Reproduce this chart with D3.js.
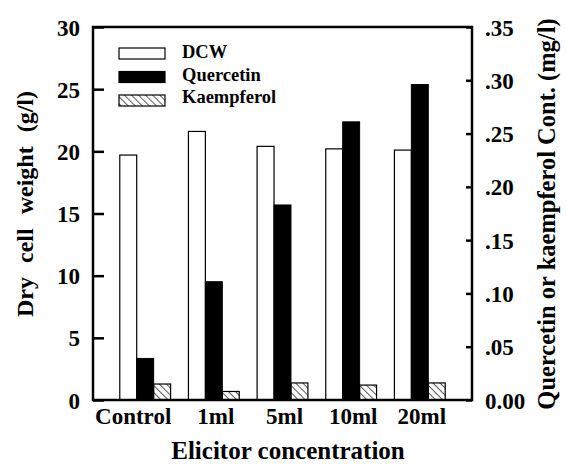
<!DOCTYPE html>
<html>
<head>
<meta charset="utf-8">
<script src="https://cdn.jsdelivr.net/npm/d3@7"></script>
<style>
  body { margin: 0; background: #fff; }
  text { font-family: 'Liberation Serif', 'Times New Roman', serif; font-weight: bold; fill: #000; }
</style>
</head>
<body>
<div id="chart"></div>
<script>
const categories = ['Control', '1ml', '5ml', '10ml', '20ml']
const dcw = [19.7, 21.6, 20.4, 20.2, 20.1]
const quercetin = [0.039, 0.111, 0.183, 0.261, 0.296]
const kaempferol = [0.015, 0.008, 0.016, 0.014, 0.016]
const leftTicks = [0, 5, 10, 15, 20, 25, 30]
const rightTicks = [0, 0.05, 0.1, 0.15, 0.2, 0.25, 0.3, 0.35]

const W = 566
const H = 464
const margin = { top: 27, right: 94, bottom: 64, left: 93 }
const width = W - margin.left - margin.right
const height = H - margin.top - margin.bottom
const serif = "'Liberation Serif', 'Times New Roman', serif"

const svg = d3.select('#chart').append('svg')
  .attr('width', W)
  .attr('height', H)

const defs = svg.append('defs')
defs.append('pattern')
  .attr('id', 'hatch')
  .attr('patternUnits', 'userSpaceOnUse')
  .attr('width', 5)
  .attr('height', 5)
  .attr('patternTransform', 'rotate(-45)')
  .append('line')
  .attr('x1', 0).attr('y1', 0).attr('x2', 0).attr('y2', 5)
  .attr('stroke', '#000')
  .attr('stroke-width', 1.3)

const g = svg.append('g').attr('transform', `translate(${margin.left},${margin.top})`)

const x = d3.scaleBand()
  .domain(categories)
  .range([0, width])
  .paddingInner(0.26)
  .paddingOuter(0.39)

const yLeft = d3.scaleLinear().domain([0, 30]).range([height, 0])
const yRight = d3.scaleLinear().domain([0, 0.35]).range([height, 0])
const barW = x.bandwidth() / 3

// Bars
const groups = g.selectAll('.grp')
  .data(categories)
  .enter()
  .append('g')
  .attr('class', 'grp')
  .attr('transform', (d) => `translate(${x(d)},0)`)

groups.append('rect')
  .attr('x', 0)
  .attr('y', (d, i) => yLeft(dcw[i]))
  .attr('width', barW)
  .attr('height', (d, i) => height - yLeft(dcw[i]))
  .attr('fill', '#fff')
  .attr('stroke', '#000')
  .attr('stroke-width', 1.2)

groups.append('rect')
  .attr('x', barW)
  .attr('y', (d, i) => yRight(quercetin[i]))
  .attr('width', barW)
  .attr('height', (d, i) => height - yRight(quercetin[i]))
  .attr('fill', '#000')
  .attr('stroke', '#000')
  .attr('stroke-width', 1)

groups.append('rect')
  .attr('x', barW * 2)
  .attr('y', (d, i) => yRight(kaempferol[i]))
  .attr('width', barW)
  .attr('height', (d, i) => height - yRight(kaempferol[i]))
  .attr('fill', 'url(#hatch)')
  .attr('stroke', '#000')
  .attr('stroke-width', 1.2)

// Frame
g.append('rect')
  .attr('x', 0).attr('y', 0)
  .attr('width', width).attr('height', height)
  .attr('fill', 'none')
  .attr('stroke', '#000')
  .attr('stroke-width', 2.5)

// Left axis
g.append('g')
  .call(d3.axisLeft(yLeft).tickValues(leftTicks).tickSizeInner(-11).tickSizeOuter(0).tickPadding(13))
  .call((a) => {
    a.attr('font-family', serif)
    a.select('.domain').remove()
    a.selectAll('.tick line').attr('stroke-width', 2.5)
    a.selectAll('.tick text').style('font-size', '23px').attr('dy', '0.35em')
  })

// Right axis
g.append('g')
  .attr('transform', `translate(${width},0)`)
  .call(d3.axisRight(yRight).tickValues(rightTicks).tickSizeInner(-6).tickSizeOuter(0).tickPadding(13)
    .tickFormat((d) => (d === 0 ? '0.00' : d3.format('.2f')(d).replace(/^0/, ''))))
  .call((a) => {
    a.attr('font-family', serif)
    a.select('.domain').remove()
    a.selectAll('.tick line').attr('stroke-width', 2.5)
    a.selectAll('.tick text').style('font-size', '23px').attr('dy', '0.35em')
  })

// Bottom axis
g.append('g')
  .attr('transform', `translate(0,${height})`)
  .call(d3.axisBottom(x).tickSize(0).tickPadding(8))
  .call((a) => {
    a.attr('font-family', serif)
    a.select('.domain').remove()
    a.selectAll('.tick text').style('font-size', '23px')
      .attr('dx', (d) => (d === 'Control' ? '-12px' : '2px'))
  })

// Axis titles
svg.append('text')
  .attr('transform', 'translate(33,204) rotate(-90)')
  .attr('text-anchor', 'middle')
  .style('font-size', '24px')
  .style('word-spacing', '8px')
  .text('Dry cell weight (g/l)')

svg.append('text')
  .attr('transform', 'translate(555,214) rotate(-90)')
  .attr('text-anchor', 'middle')
  .style('font-size', '24.5px')
  .text('Quercetin or kaempferol Cont. (mg/l)')

svg.append('text')
  .attr('x', 288)
  .attr('y', 459)
  .attr('text-anchor', 'middle')
  .style('font-size', '25px')
  .text('Elicitor concentration')

// Legend
const legendItems = [
  { label: 'DCW', fill: '#fff' },
  { label: 'Quercetin', fill: '#000' },
  { label: 'Kaempferol', fill: 'url(#hatch)' }
]
const legend = svg.append('g').attr('transform', 'translate(119,48)')
legendItems.forEach((item, i) => {
  legend.append('rect')
    .attr('x', 0)
    .attr('y', i * 23.5)
    .attr('width', 46)
    .attr('height', 11)
    .attr('fill', item.fill)
    .attr('stroke', '#000')
    .attr('stroke-width', 1.2)
  legend.append('text')
    .attr('x', 63)
    .attr('y', i * 22.5 + 10)
    .style('font-size', '18.5px')
    .text(item.label)
})
</script>
</body>
</html>
